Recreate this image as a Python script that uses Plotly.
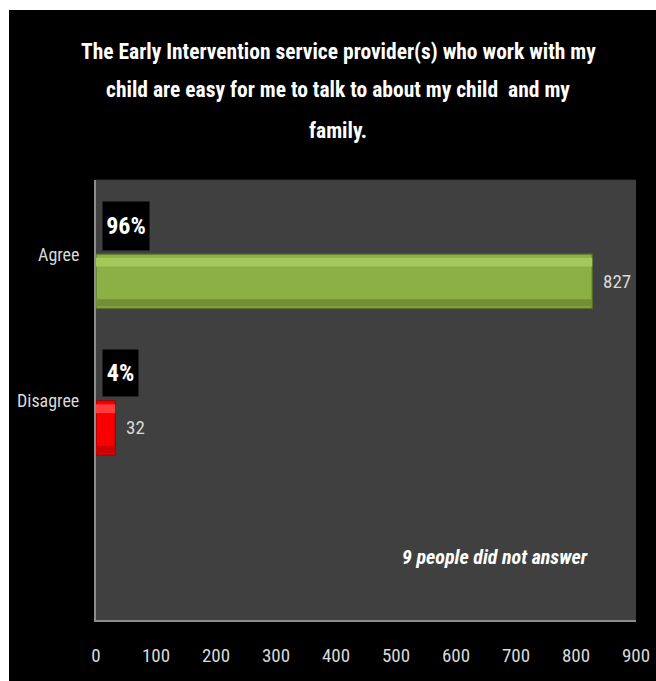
import plotly.graph_objects as go

# Survey responses
categories = ["Disagree", "Agree"]
counts = [32, 827]
percents = ["4%", "96%"]

# bar shading: body, upper highlight, lower shade, outline
body_colors = ["#f80000", "#8cb044"]
light_colors = ["#ff3c3c", "#a4c85a"]
shade_colors = ["#cc0000", "#738f36"]
edge_colors = ["#9a0000", "#56702a"]

title_lines = [
    "The Early Intervention service provider(s) who work with my",
    "child are easy for me to talk to about my child  and my",
    "family.",
]
note_text = "9 people did not answer"
x_ticks = [0, 100, 200, 300, 400, 500, 600, 700, 800, 900]

W, H = 656, 681
L, R, T, B = 96, 20, 180, 61
pw, ph = W - L - R, H - T - B

font = "Roboto Condensed, Liberation Sans Narrow, Arial Narrow, sans-serif"
BAR_W = 0.37

fig = go.Figure()
fig.add_trace(go.Bar(
    y=categories, x=counts, orientation="h", width=BAR_W,
    marker=dict(color=body_colors, line=dict(color=edge_colors, width=1.2)),
    hoverinfo="skip",
))
fig.add_trace(go.Bar(
    y=categories, x=counts, orientation="h",
    width=0.06, offset=BAR_W / 2 - 0.085,
    marker=dict(color=light_colors, line=dict(width=0)),
    hoverinfo="skip",
))
fig.add_trace(go.Bar(
    y=categories, x=counts, orientation="h",
    width=0.05, offset=-BAR_W / 2 + 0.012,
    marker=dict(color=shade_colors, line=dict(width=0)),
    hoverinfo="skip",
))

annotations = []
box_sizes = {"4%": (35, 46), "96%": (46, 48)}
for cat, pct, n in zip(categories, percents, counts):
    # category name, a little above the bar centre
    annotations.append(dict(
        x=0, xref="paper", xanchor="right", xshift=-15,
        y=cat, yref="y", yshift=27, yanchor="middle",
        text=cat, showarrow=False,
        font=dict(color="#d9d9d9", size=18, family=font),
    ))
    # percentage badge on a black box above the bar
    bw, bh = box_sizes[pct]
    annotations.append(dict(
        x=0, xref="x", xanchor="left", xshift=6,
        y=cat, yref="y", yshift=55, yanchor="middle",
        text="<b>" + pct + "</b>", showarrow=False,
        bgcolor="#000000", borderpad=0, width=bw, height=bh,
        align="center", valign="middle",
        font=dict(color="#ffffff", size=24, family=font),
    ))
    # count at the end of the bar
    annotations.append(dict(
        x=n, xref="x", xanchor="left", xshift=9,
        y=cat, yref="y", yanchor="middle",
        text=str(n), showarrow=False,
        font=dict(color="#d9d9d9", size=19, family=font),
    ))

for line, y_px in zip(title_lines, [51, 90, 130]):
    annotations.append(dict(
        x=(338 - L) / pw, xref="paper", xanchor="center",
        y=(H - B - y_px) / ph, yref="paper", yanchor="middle",
        text="<b>" + line + "</b>", showarrow=False,
        font=dict(color="#ffffff", size=21.5, family=font),
    ))

annotations.append(dict(
    x=(590 - L) / pw, xref="paper", xanchor="right",
    y=(H - B - 557) / ph, yref="paper", yanchor="middle",
    text="<b><i>" + note_text + "</i></b>", showarrow=False,
    font=dict(color="#ffffff", size=20, family=font),
))

# white frame strips along the top and left edges
shapes = [
    dict(type="rect", xref="paper", yref="paper", layer="above",
         x0=-L / pw, x1=(9 - L) / pw, y0=-B / ph, y1=1 + T / ph,
         fillcolor="#ffffff", line=dict(width=0)),
    dict(type="rect", xref="paper", yref="paper", layer="above",
         x0=-L / pw, x1=1 + R / pw, y0=1 + (T - 10) / ph, y1=1 + T / ph,
         fillcolor="#ffffff", line=dict(width=0)),
    dict(type="line", xref="paper", yref="paper", layer="below",
         x0=0, x1=1, y0=1, y1=1, line=dict(color="#333333", width=1)),
]

fig.update_layout(
    template="none",
    width=W, height=H,
    margin=dict(l=L, r=R, t=T, b=B, pad=0, autoexpand=False),
    paper_bgcolor="#000000", plot_bgcolor="#404040",
    showlegend=False, barmode="overlay",
    annotations=annotations, shapes=shapes,
    xaxis=dict(
        range=[0, 900], tickvals=x_ticks, showgrid=False, zeroline=False,
        showline=True, linecolor="#8c8c8c", linewidth=1.5,
        ticks="", ticklabelstandoff=17, automargin=False,
        tickfont=dict(color="#d9d9d9", size=19, family=font),
        fixedrange=True,
    ),
    yaxis=dict(
        type="category", categoryarray=categories, range=[-1.31, 1.69],
        showticklabels=False, showgrid=False, zeroline=False,
        showline=True, linecolor="#8c8c8c", linewidth=1.5, ticks="",
        automargin=False, fixedrange=True,
    ),
)

fig.write_html("out.html")
